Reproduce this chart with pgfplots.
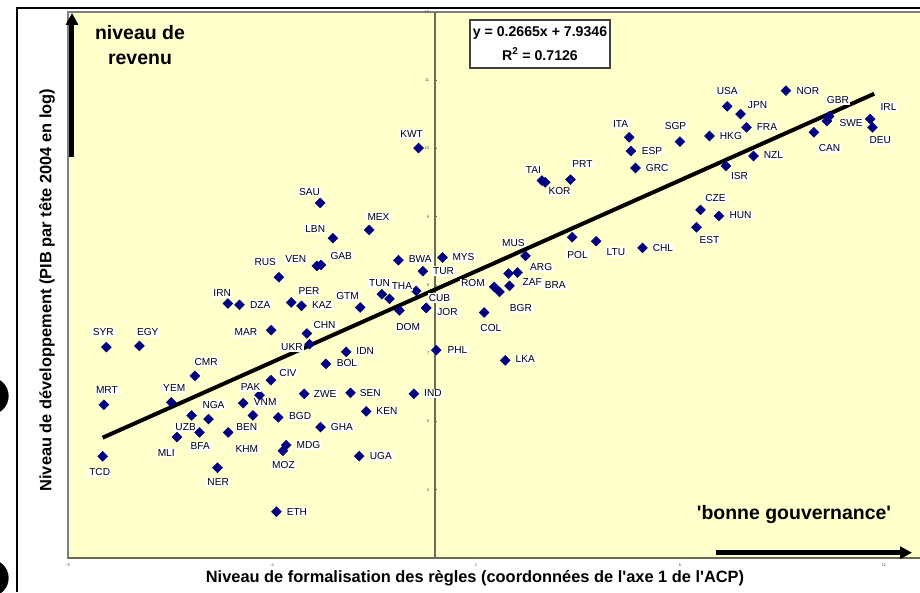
\documentclass[border=0pt]{standalone}
\usepackage{fontspec}
\setmainfont{Liberation Sans}[Ligatures=TeXOff]
\usepackage{pgfplots}
\usepackage{pgfplotstable}
\pgfplotsset{compat=1.18}
\usetikzlibrary{arrows.meta}

\definecolor{bgyellow}{HTML}{FFFFCC}
\definecolor{navy}{HTML}{000080}
\definecolor{axisgray}{HTML}{6E6B55}

% x y, label offset in px (dx right, dy up), country code
\pgfplotstableread{
x y dx dy lab
-8.150 5.490 -3 -16 TCD
-8.120 6.245 3 14.7 MRT
-8.060 7.089 -3 15.3 SYR
-7.250 7.108 8.4 13.4 EGY
-5.890 6.669 11.3 13.7 CMR
-6.470 6.280 3 14 YEM
-6.330 5.772 -10.7 -15.7 MLI
-5.970 6.089 -6 -12 UZB
-5.556 6.035 5 14 NGA
-5.777 5.840 0.7 -14 BFA
-5.336 5.322 0.7 -14.3 NER
-5.074 5.840 18.7 5 BEN
-4.468 6.089 -6 -34 KHM
-4.706 6.269 22 0.7 VNM
-4.306 6.387 -9 8 PAK
-4.027 6.606 17 7.3 CIV
-4.020 7.338 -25.3 -2 MAR
-5.081 7.729 -5.7 10 IRN
-4.797 7.709 20.7 0 DZA
-3.831 8.114 -13.7 15.7 RUS
-2.900 8.280 -21 6.4 VEN
-2.801 8.294 20.3 9.4 GAB
-2.819 9.202 -10.7 11.4 SAU
-2.507 8.685 -17.7 9.3 LBN
-1.618 8.807 9.3 13 MEX
-0.409 10.007 -7 14 KWT
-3.529 7.744 17.7 11.3 PER
-3.277 7.694 20.4 0.4 KAZ
-3.145 7.290 17.6 8.3 CHN
-3.081 7.133 -17.6 -3 UKR
-2.181 7.020 19 0.4 IDN
-2.679 6.845 21 0.4 BOL
-3.211 6.406 21 0 ZWE
-2.076 6.420 19.7 0 SEN
-0.522 6.406 19 0.4 IND
-1.691 6.148 20.7 0 KEN
-3.848 6.060 22 1 BGD
-2.811 5.918 21.4 0 GHA
-3.652 5.654 22.3 0 MDG
-3.733 5.571 0.6 -14.3 MOZ
-1.863 5.493 21.7 0 UGA
-3.890 4.678 20.4 0 ETH
-1.838 7.671 -12.7 11.3 GTM
-1.306 7.865 -2.4 11.3 TUN
-0.466 7.914 -14.3 4.7 THA
-0.875 7.627 8.7 -17 DOM
-0.221 7.665 21.3 -4.3 JOR
-0.221 7.665 13.3 10 CUB
-0.900 8.363 21.7 1 BWA
-0.301 8.202 20.6 0.3 TUR
0.179 8.403 21 0.6 MYS
0.025 7.045 21.3 -0.3 PHL
1.716 6.895 20 1 LKA
1.201 7.597 6.7 -16 COL
1.446 7.972 -21.3 3.4 ROM
1.576 7.899 21.4 -16.6 BGR
1.821 7.987 22.7 3.4 ZAF
2.017 8.183 23.7 5 ARG
1.797 8.168 46.7 -11.7 BRA
2.213 8.426 -12 13.4 MUS
3.358 8.700 5.3 -17.3 POL
3.946 8.641 19.7 -10.7 LTU
5.081 8.543 20.4 0.4 CHL
6.404 8.846 13 -12.3 EST
6.502 9.100 15 11.7 CZE
6.953 9.012 21.6 0.4 HUN
2.615 9.530 -8.4 11 TAI
2.696 9.505 14.3 -9 KOR
3.316 9.545 12 16 PRT
4.755 10.164 -8.7 13.3 ITA
4.797 9.963 21 0.4 ESP
4.909 9.714 21.7 0.4 GRC
5.998 10.101 -4.4 16 SGP
6.723 10.183 21.4 0.4 HKG
7.157 10.618 0 15 USA
7.483 10.505 17 9.4 JPN
7.630 10.310 20.4 0.7 FRA
7.125 9.744 13.6 -10.3 ISR
7.801 9.890 20 0.7 NZL
8.596 10.848 22 0 NOR
9.657 10.471 8.7 16 GBR
9.600 10.403 24.3 -1.6 SWE
9.282 10.237 15.6 -16 CAN
10.662 10.432 18.3 12 IRL
10.718 10.310 7.7 -13 DEU
}\countries

\begin{document}
\begin{tikzpicture}
\useasboundingbox (-51pt,-25.5pt) rectangle (639pt,418.5pt);
\begin{axis}[
  at={(0pt,0pt)}, anchor=south west,
  scale only axis, width=642.6pt, height=409.5pt,
  xmin=-9, xmax=12, ymin=4, ymax=12,
  axis x line=bottom, axis y line=middle,
  axis line style={-, draw=axisgray, line width=1.1pt},
  axis background/.style={fill=bgyellow, draw=gray, line width=1pt},
  xtick={-9,-4,1,6,11}, ytick={5,...,12},
  tick style={draw=axisgray, line width=0.4pt},
  major tick length=2pt,
  tick label style={font=\fontsize{3}{3}\selectfont, text=black!70},
  /pgf/number format/assume math mode=true,
  clip=false,
]
\addplot[black, line width=3pt] coordinates {(-8.15,5.763) (10.76,10.802)};
\addplot[only marks, mark=square*, mark size=2.6pt,
  mark options={rotate=45, fill=navy, draw=navy},
  point meta=explicit symbolic,
  visualization depends on={\thisrow{dx} \as \dx},
  visualization depends on={\thisrow{dy} \as \dy},
  nodes near coords,
  every node near coord/.append style={anchor=center,
    xshift=\dx*0.75pt, yshift=\dy*0.75pt, fill=white, inner sep=0.8pt,
    font=\fontsize{7.6}{8}\selectfont, text=black},
] table[x=x, y=y, meta=lab] {\countries};
\addplot[only marks, mark=square*, mark size=2.6pt,
  mark options={rotate=45, fill=navy, draw=navy}] coordinates {(-1.120,7.797)};
\end{axis}
% annotations, in pixel coordinates of the 920x592 image
\begin{scope}[x=0.75pt, y=-0.75pt, shift={(-51pt,418.5pt)}]
\draw[black, line width=0.8pt] (17,592) -- (17,8) -- (920,8);
\fill[black] (-10,396) circle[radius=14pt];
\fill[black] (-10,578) circle[radius=14pt];
\draw[line width=3.75pt, -{Triangle[length=9pt,width=9pt]}] (72,157) -- (72,13);
\draw[line width=3.75pt, -{Triangle[length=9pt,width=9pt]}] (716,552.7) -- (912,552.7);
\node[font=\bfseries\fontsize{14.6}{16}\selectfont] at (140,33) {niveau de};
\node[font=\bfseries\fontsize{14.6}{16}\selectfont] at (140,59) {revenu};
\node[font=\bfseries\fontsize{14.6}{16}\selectfont] at (794,515) {'bonne gouvernance'};
\draw[fill=white, draw=black!75, line width=0.9pt] (470,20) rectangle (610,68);
\node[font=\bfseries\fontsize{10.6}{12}\selectfont] at (540,33) {y = 0.2665x + 7.9346};
\node[font=\bfseries\fontsize{10.6}{12}\selectfont] at (540,54) {R\textsuperscript{2} = 0.7126};
\node[rotate=90, font=\bfseries\fontsize{12.3}{14}\selectfont] at (47,290)
  {Niveau de développement (PIB par tête 2004 en log)};
\node[font=\bfseries\fontsize{12.3}{14}\selectfont] at (475,578)
  {Niveau de formalisation des règles (coordonnées de l'axe 1 de l'ACP)};
\end{scope}
\end{tikzpicture}
\end{document}
